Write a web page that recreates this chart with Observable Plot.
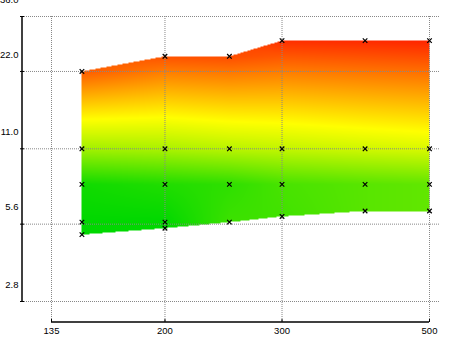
<!DOCTYPE html>
<html><head><meta charset="utf-8">
<script src="https://cdn.jsdelivr.net/npm/d3@7"></script>
<script src="https://cdn.jsdelivr.net/npm/@observablehq/plot@0.6"></script>
<style>body{margin:0;background:#fff}</style>
</head><body><div id="chart"></div>
<script>
// Axis ticks
const xTicks = [135, 200, 300, 500];
const yTicks = [2.8, 5.6, 11, 22, 36];
// Sample columns (x) and the sample y values in each column (top to bottom)
const columns = [150, 200, 250, 300, 400, 500];
const colY = [
  [22, 11, 8, 5.7, 5.1],
  [25.2, 11, 8, 5.7, 5.4],
  [25.2, 11, 8, 5.7],
  [29, 11, 8, 6.0],
  [29, 11, 8, 6.3],
  [29, 11, 8, 6.3]
];
// Colour value read at each sample (0 = green, 0.55 = yellow, 1 = red)
const colZ = [
  [0.88, 0.35, 0.035, 0, 0],
  [0.90, 0.37, 0.07, 0, 0],
  [0.91, 0.40, 0.10, 0.13],
  [0.97, 0.42, 0.155, 0.14],
  [0.98, 0.45, 0.19, 0.19],
  [0.99, 0.47, 0.21, 0.21]
];
const colorDomain = [0, 0.55, 1];
const colorRange = ["#00d800", "#ffff00", "#ff2000"];

const points = columns.flatMap((x, c) => colY[c].map(y => ({x, y})));
const last = a => a[a.length - 1];
const lc = columns.map(Math.log);

function colField(c, ly) {
  const ys = colY[c].map(Math.log), zs = colZ[c];
  if (ly >= ys[0]) return zs[0];
  for (let i = 1; i < ys.length; i++) {
    if (ly >= ys[i]) {
      const t = (ly - ys[i]) / (ys[i - 1] - ys[i]);
      return zs[i] + t * (zs[i - 1] - zs[i]);
    }
  }
  return last(zs);
}
function field(x, y) {
  const lx = Math.log(x), ly = Math.log(y);
  if (!(lx >= lc[0] && lx <= last(lc))) return NaN;
  let c = 0;
  while (c < lc.length - 2 && lx > lc[c + 1]) c++;
  const t = (lx - lc[c]) / (lc[c + 1] - lc[c]);
  const top = (1 - t) * Math.log(colY[c][0]) + t * Math.log(colY[c + 1][0]);
  const bot = (1 - t) * Math.log(last(colY[c])) + t * Math.log(last(colY[c + 1]));
  if (ly > top || ly < bot) return NaN;
  return (1 - t) * colField(c, ly) + t * colField(c + 1, ly);
}

function axisLines(index, scales, values, dims) {
  const {x, y} = scales;
  const yb = dims.height - dims.marginBottom;
  const g = d3.create("svg:g").attr("stroke", "black").attr("stroke-width", 1.5);
  g.append("line").attr("x1", dims.marginLeft).attr("x2", dims.marginLeft)
    .attr("y1", y(last(yTicks))).attr("y2", y(yTicks[0]));
  g.append("line").attr("x1", x(xTicks[0])).attr("x2", x(last(xTicks)))
    .attr("y1", yb).attr("y2", yb);
  return g.node();
}

const plot = Plot.plot({
  width: 450, height: 337,
  marginLeft: 22, marginRight: 10, marginTop: 16, marginBottom: 15,
  x: {type: "log", domain: [xTicks[0], last(xTicks)], range: [51, 429]},
  y: {type: "log", domain: [yTicks[0], last(yTicks)], range: [301, 16]},
  color: {type: "linear", domain: colorDomain, range: colorRange, interpolate: "rgb", clamp: true},
  style: {fontFamily: "'Liberation Sans', Arial, sans-serif", fontSize: "9.5px", background: "white", color: "black"},
  marks: [
    Plot.raster(null, {fill: field, pixelSize: 1,
      x1: xTicks[0], x2: last(xTicks), y1: yTicks[0], y2: last(yTicks)}),
    Plot.ruleY(yTicks, {stroke: "#888", strokeDasharray: "1,1"}),
    Plot.ruleX(xTicks, {stroke: "#888", strokeDasharray: "1,1"}),
    Plot.dot(points, {x: "x", y: "y", symbol: "times", r: 2.2, stroke: "black", strokeWidth: 1.2}),
    axisLines,
    Plot.axisY({ticks: yTicks, anchor: "left", tickSize: 4, dx: 2, fill: "none", label: null}),
    Plot.axisY({ticks: yTicks, anchor: "left", tickSize: 0, tickPadding: 4, dy: -17, tickFormat: d3.format(".1f"), label: null}),
    Plot.axisX({ticks: xTicks, anchor: "bottom", tickSize: 3, dy: -3, fill: "none", label: null}),
    Plot.axisX({ticks: xTicks, anchor: "bottom", tickSize: 0, tickPadding: 5, tickFormat: d => String(d), label: null})
  ]
});
document.getElementById("chart").appendChild(plot);
</script>
</body></html>
